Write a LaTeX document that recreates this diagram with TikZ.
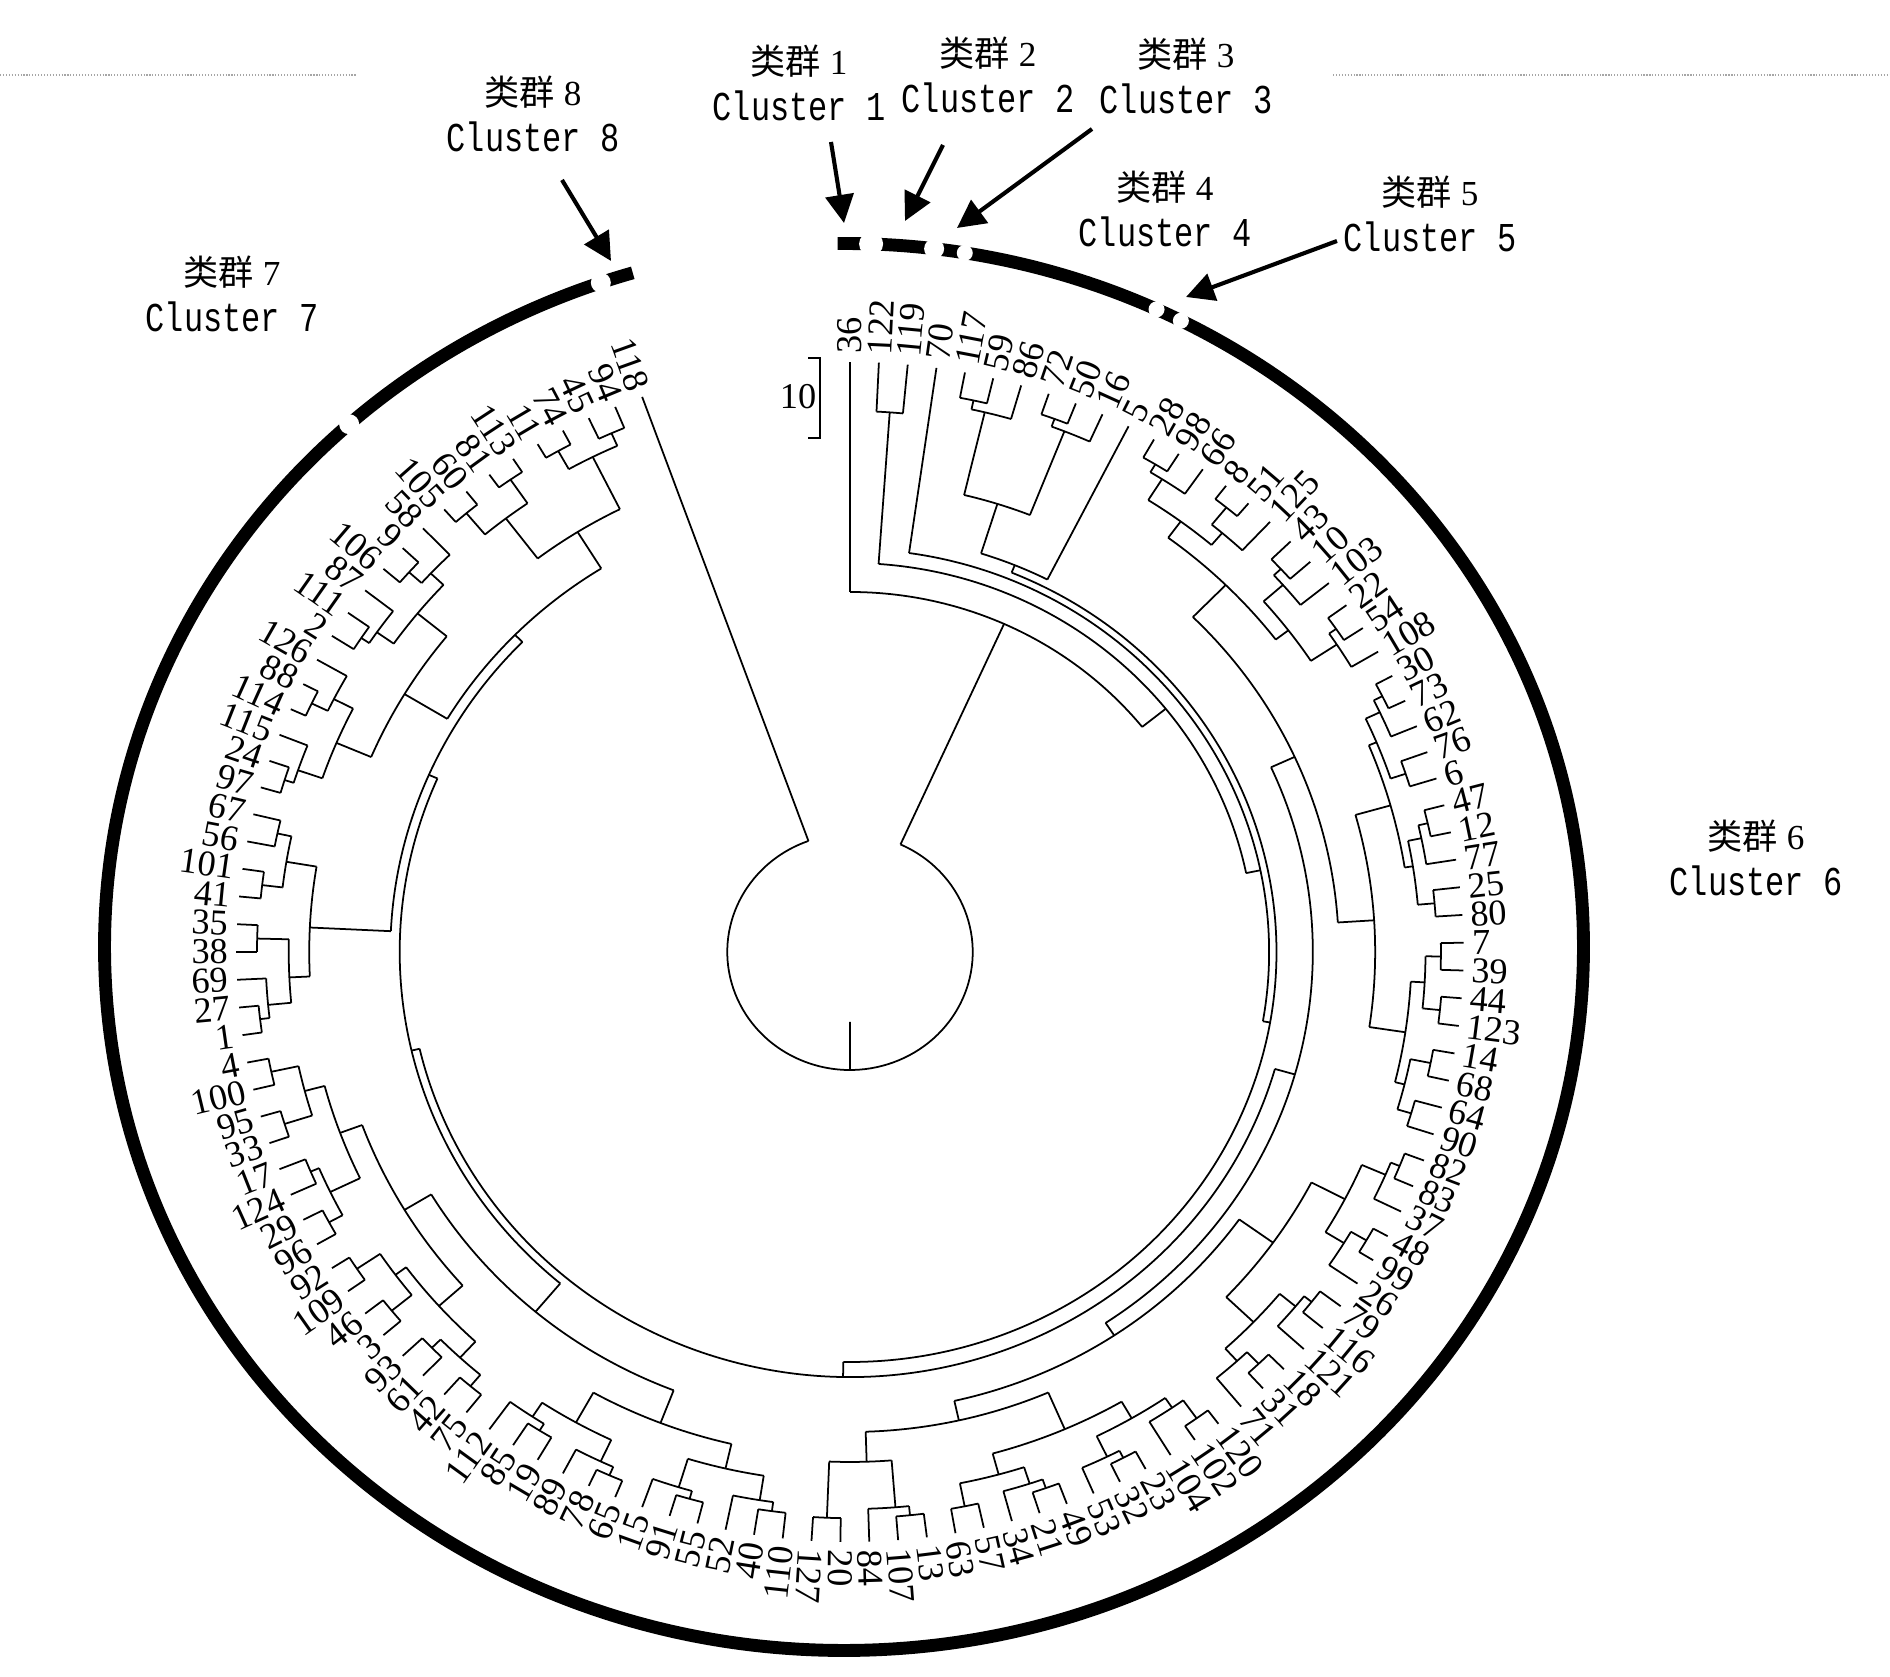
\documentclass[tikz,border=0pt]{standalone}
\usepackage{fontspec}
\setmainfont{Liberation Serif}
\newfontfamily\cjk{Noto Sans CJK SC}
\newfontfamily\clmono[FakeStretch=0.78]{Liberation Mono}
\usetikzlibrary{arrows.meta}
\def\tip{590}
\def\ang#1{(90-2.7*((#1)-1))}
\newcommand\twig[2]{\draw[br] ({\ang{#1}}:#2) -- ({\ang{#1}}:\tip);}
\newcommand\knot[5]{\draw[br] ({\ang{#1}}:#3) arc[start angle={\ang{#1}}, end angle={\ang{#2}}, radius=#3];
  \draw[br] ({\ang{#4}}:#3) -- ({\ang{#4}}:#5);}
\newcommand\clade[4]{%
  \ifnum#1=#2\relax \twig{#1}{#4}%
  \else
    \begingroup
    \pgfmathtruncatemacro\cm{(#1+#2)/2}%
    \pgfmathtruncatemacro\cn{\cm+1}%
    \pgfmathsetmacro\rl{max(590-30*ln(\cm-#1+1)+mod(7*#1+3*\cm,13)-6,#3+8)}%
    \pgfmathsetmacro\rr{max(590-30*ln(#2-\cm)+mod(5*#2+3*\cn,13)-6,#3+8)}%
    \knot{(#1+\cm)/2}{(\cn+#2)/2}{#3}{(#1+#2)/2}{#4}%
    \edef\next{\noexpand\clade{#1}{\cm}{\rl}{#3}\noexpand\clade{\cn}{#2}{\rr}{#3}}%
    \next
    \endgroup
  \fi}
\newcommand\cname[1]{{\cjk 类群}\ #1\\{\fontsize{35}{40}\selectfont\clmono Cluster #1}}

\begin{document}
\begin{tikzpicture}[x=0.03cm, y=0.03cm,
    br/.style={line width=1.5pt},
    lab/.style={inner sep=0pt, font=\fontsize{31}{31}\selectfont},
    cl/.style={align=center, inner sep=0pt, font=\fontsize{30}{40}\selectfont},
    arw/.style={line width=3.5pt, -{Triangle[length=24pt, width=24pt]}}]
\useasboundingbox (0,0) rectangle (1890,1677);
\draw[gray!70, line width=1pt, dash pattern=on 1pt off 1.5pt] (0,1602) -- (357,1602) (1333,1602) -- (1890,1602);

% outer ring and its gaps
\begin{scope}[shift={(844,730)}]
  \draw[line width=11pt] (90.5:739.5 and 703.5) arc[start angle=90.5, end angle=-253.4, x radius=739.5, y radius=703.5];
  \foreach \t/\g in {87.9/12, 83.0/10, 80.6/8, 65.0/8, 62.9/8, -228.0/10, -250.8/10}
    \fill[white] (\t:739.5 and 703.5) circle[radius=\g];
\end{scope}

% tree
\begin{scope}[shift={(850,725)}, xscale=1.04]
  \knot{10}{127}{118}{67.67}{70} \twig{127}{118}
  \knot{1}{20}{360}{10}{118} \twig{1}{360}
  \knot{2.5}{30}{389}{20}{360} \clade{2}{3}{541}{389}
  \knot{4}{38}{403}{30}{389} \twig{4}{403}
  \knot{9.25}{68}{410}{38}{403}
  \knot{7.5}{11}{418}{9.25}{410} \clade{5}{10}{470}{418} \twig{11}{418}
  \knot{40.25}{96.125}{425}{68}{410}
  \knot{25.25}{55.25}{445}{40.25}{425}
  \knot{17.5}{33}{470}{25.25}{445} \clade{12}{23}{515}{470}
  \knot{28.5}{37.5}{505}{33}{470} \clade{24}{33}{540}{505} \clade{34}{41}{540}{505}
  \knot{47.5}{63}{460}{55.25}{445} \clade{42}{53}{500}{460}
  \knot{59}{67}{480}{63}{460} \clade{54}{64}{520}{480} \clade{65}{69}{510}{480}
  \knot{82.5}{109.75}{433}{96.125}{425}
  \knot{75.5}{89.5}{470}{82.5}{433} \clade{70}{81}{505}{470} \clade{82}{97}{500}{470}
  \knot{102}{117.5}{442}{109.75}{433} \clade{98}{106}{520}{442}
  \knot{112.5}{122.5}{452}{117.5}{442} \clade{107}{118}{500}{452} \clade{119}{126}{495}{452}
  \foreach \l [count=\i] in {36,122,119,70,117,59,86,72,50,16,5,28,98,66,8,51,125,43,10,103,
      22,54,108,30,73,62,76,6,47,12,77,25,80,7,39,44,123,14,68,64,90,82,83,37,48,99,26,79,116,121,
      18,31,71,120,102,104,23,32,53,49,21,34,57,63,13,107,84,20,127,110,40,52,55,91,15,65,78,89,19,85,
      112,75,42,61,93,3,46,109,92,96,29,124,17,33,95,100,4,1,27,69,38,35,41,101,56,67,97,24,115,114,
      88,126,2,111,87,106,9,58,105,60,81,113,11,74,45,94,118}{
    \ifnum\i<70
      \node[lab, anchor=west, rotate={\ang{\i}}] (l\i) at ({\ang{\i}}:598) {\l};
    \else
      \node[lab, anchor=east, rotate={\ang{\i}+180}] (l\i) at ({\ang{\i}}:598) {\l};
    \fi}
\end{scope}

% scale bar
\node[lab] (sc) at (798,1280) {10};
\draw[br] (808,1319) -- (820,1319) -- (820,1239) -- (808,1239);

% cluster names
\node[cl] (c1) at (799,1594) {\cname{1}};
\node[cl] (c2) at (988,1602) {\cname{2}};
\node[cl] (c3) at (1186,1601) {\cname{3}};
\node[cl] (c4) at (1165,1468) {\cname{4}};
\node[cl] (c5) at (1430,1463) {\cname{5}};
\node[cl] (c6) at (1756,819) {\cname{6}};
\node[cl] (c7) at (232,1383) {\cname{7}};
\node[cl] (c8) at (533,1563) {\cname{8}};

% arrows to the ring
\coordinate (a1) at (831,1535); \coordinate (b1) at (844,1454);
\coordinate (a2) at (943,1532); \coordinate (b2) at (905,1456);
\coordinate (a3) at (1092,1548); \coordinate (b3) at (957,1449);
\coordinate (a5) at (1337,1436); \coordinate (b5) at (1186,1380);
\coordinate (a8) at (562,1497); \coordinate (b8) at (611,1416);
\foreach \k in {1,2,3,5,8} \draw[arw] (a\k) -- (b\k);
\end{tikzpicture}
\end{document}
